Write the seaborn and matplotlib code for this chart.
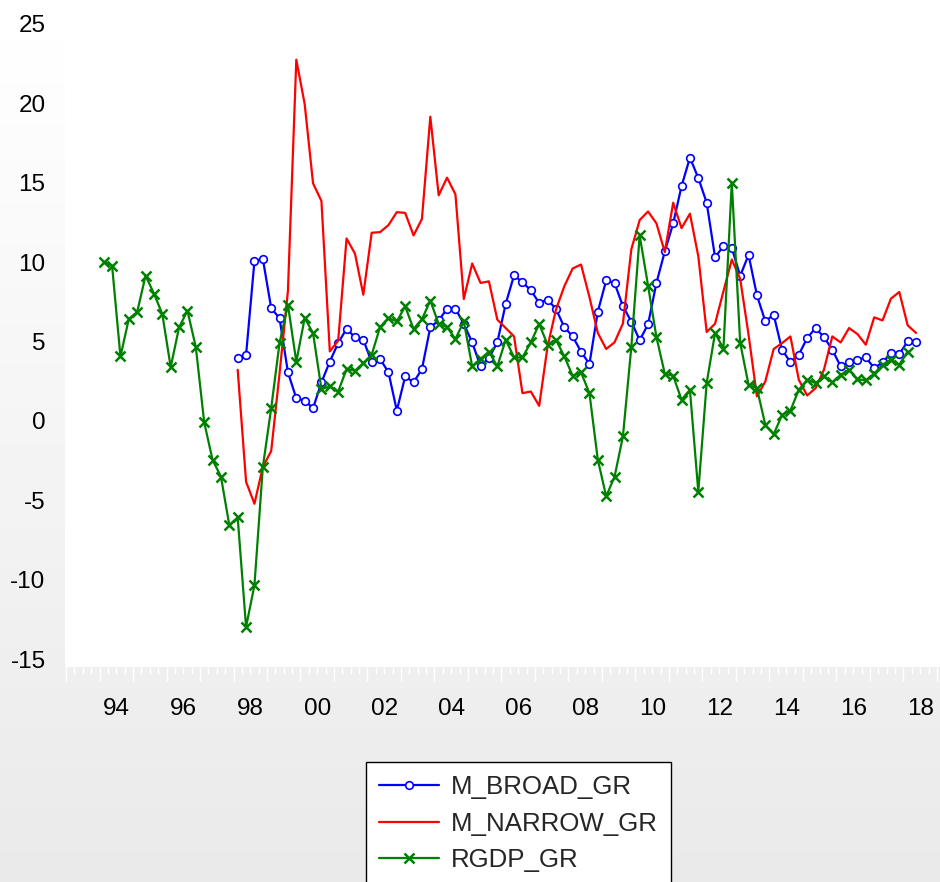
import numpy as np
import pandas as pd
import matplotlib
matplotlib.use("Agg")
import matplotlib.pyplot as plt
import seaborn as sns

sns.set_style("white")
plt.rcParams['font.family'] = ['Liberation Sans', 'DejaVu Sans']
plt.rcParams['axes.unicode_minus'] = False

# quarterly data, 1994Q1 .. 2018Q2
start_year = 1994
n_quarters = 98

rgdp_gr = [10.02, 9.78, 4.06, 6.42, 6.86, 9.15, 8.02, 6.73, 3.39, 5.89,
           6.94, 4.65, -0.08, -2.46, -3.51, -6.57, -6.08, -12.98, -10.35, -2.92,
           0.80, 4.92, 7.31, 3.72, 6.48, 5.53, 2.00, 2.17, 1.85, 3.26,
           3.16, 3.64, 4.17, 5.91, 6.48, 6.27, 7.21, 5.79, 6.40, 7.58,
           6.10, 5.91, 5.16, 6.27, 3.43, 3.90, 4.37, 3.43, 5.11, 4.00,
           4.00, 4.94, 6.10, 4.80, 5.11, 4.06, 2.84, 3.05, 1.75, -2.44,
           -4.75, -3.52, -0.97, 4.64, 11.68, 8.52, 5.28, 2.97, 2.84, 1.33,
           1.96, -4.46, 2.38, 5.54, 4.55, 15.00, 4.92, 2.27, 2.06, -0.25,
           -0.85, 0.38, 0.65, 1.96, 2.59, 2.38, 2.80, 2.42, 2.90, 3.22,
           2.63, 2.55, 2.97, 3.54, 3.85, 3.54, 4.37]

# money series start in 1998Q1 (index 16)
money_start = 16
m_broad_gr = [3.96, 4.15, 10.06, 10.21, 7.11, 6.46, 3.06, 1.42, 1.28, 0.80,
              2.42, 3.74, 4.90, 5.81, 5.26, 5.11, 3.70, 3.90, 3.07, 0.65,
              2.80, 2.43, 3.26, 5.90, 6.33, 7.06, 7.06, 6.12, 4.94, 3.43,
              3.96, 4.94, 7.37, 9.17, 8.73, 8.23, 7.43, 7.64, 7.05, 5.91,
              5.32, 4.36, 3.58, 6.88, 8.85, 8.68, 7.22, 6.26, 5.08, 6.08,
              8.69, 10.67, 12.44, 14.79, 16.58, 15.30, 13.74, 10.31, 11.00, 10.90,
              9.13, 10.46, 7.91, 6.27, 6.69, 4.48, 3.70, 4.17, 5.22, 5.85,
              5.28, 4.48, 3.43, 3.70, 3.85, 4.00, 3.33, 3.68, 4.27, 4.21,
              5.01, 4.94]

m_narrow_gr = [3.22, -3.83, -5.22, -2.90, -1.90, 3.00, 8.20, 22.75, 19.95, 14.96,
               13.85, 4.38, 5.05, 11.49, 10.54, 7.95, 11.85, 11.89, 12.33, 13.15,
               13.10, 11.68, 12.72, 19.16, 14.21, 15.32, 14.27, 7.68, 9.91, 8.69,
               8.79, 6.38, 5.85, 5.32, 1.75, 1.85, 0.95, 4.69, 7.00, 8.48,
               9.60, 9.85, 7.80, 5.54, 4.53, 4.95, 6.14, 10.80, 12.65, 13.19,
               12.44, 10.63, 13.74, 12.14, 13.05, 10.37, 5.60, 6.12, 8.16, 10.16,
               8.95, 5.43, 1.54, 2.48, 4.53, 4.90, 5.32, 2.59, 1.60, 2.06,
               3.22, 5.32, 4.94, 5.85, 5.47, 4.80, 6.52, 6.33, 7.70, 8.12,
               6.02, 5.54]

y_ticks = [-15, -10, -5, 0, 5, 10, 15, 20, 25]
label_years = list(range(1994, 2019, 2))

# time axis: each quarter sits in the middle of its quarter
t = start_year + np.arange(n_quarters) * 0.25 + 0.125

df_rgdp = pd.DataFrame({"t": t[:len(rgdp_gr)], "v": rgdp_gr})
df_broad = pd.DataFrame({"t": t[money_start:money_start + len(m_broad_gr)], "v": m_broad_gr})
df_narrow = pd.DataFrame({"t": t[money_start:money_start + len(m_narrow_gr)], "v": m_narrow_gr})

# ------------------------------------------------------------
# figure + gradient background
# ------------------------------------------------------------
fig = plt.figure(figsize=(9.4, 8.82), dpi=100)
bg = fig.add_axes([0, 0, 1, 1], zorder=-10)
grad = np.linspace(1.0, 0.915, 256).reshape(-1, 1)
bg.imshow(grad, aspect="auto", cmap="gray", vmin=0, vmax=1, extent=[0, 1, 0, 1])
bg.set_axis_off()

ax = fig.add_axes([65 / 940, 1 - 667 / 882, 875 / 940, 667 / 882])
ax.set_facecolor("white")

sns.lineplot(data=df_broad, x="t", y="v", ax=ax, color="#0000ff", lw=1.6,
             marker="o", markersize=5.5, markerfacecolor="white",
             markeredgecolor="#0000ff", markeredgewidth=1.2, label="M_BROAD_GR")
sns.lineplot(data=df_narrow, x="t", y="v", ax=ax, color="#ff0000", lw=1.6,
             label="M_NARROW_GR")
sns.lineplot(data=df_rgdp, x="t", y="v", ax=ax, color="#008000", lw=1.6,
             marker="x", markersize=6.5, markeredgewidth=1.8,
             markeredgecolor="#008000", label="RGDP_GR")

ax.set_xlim(1992.97, 2019.09)
ax.set_ylim(-15.5, 26.51)
ax.set_xlabel("")
ax.set_ylabel("")

for s in ax.spines.values():
    s.set_visible(False)

ax.set_yticks(y_ticks)
ax.set_yticklabels([str(v) for v in y_ticks])
ax.tick_params(axis="y", length=7, width=1, color="white", pad=7,
               labelsize=17.5, labelcolor="black")

ax.set_xticks([y + 0.5 for y in label_years])
ax.set_xticklabels([f"{y % 100:02d}" for y in label_years])
ax.tick_params(axis="x", length=0, pad=22, labelsize=17.5, labelcolor="black")

# year / quarter tick marks
sec = ax.secondary_xaxis("bottom")
sec.set_xticks(np.arange(1993, 2020), labels=[])
sec.set_xticks(np.arange(1993, 2019.01, 0.25), minor=True)
sec.tick_params(which="major", length=10, width=1, color="white")
sec.tick_params(which="minor", length=5, width=1, color="white")
for s in sec.spines.values():
    s.set_visible(False)

ax.legend(loc="upper left", bbox_to_anchor=(366 / 940, 1 - 762 / 882),
          bbox_transform=fig.transFigure, borderaxespad=0, fontsize=18.6,
          frameon=True, fancybox=False, framealpha=1, edgecolor="black",
          handlelength=2.3, handletextpad=0.45, labelspacing=0.48,
          borderpad=0.52, numpoints=1)
ax.get_legend().get_frame().set_linewidth(1.0)

plt.savefig("out.png", dpi=100)
